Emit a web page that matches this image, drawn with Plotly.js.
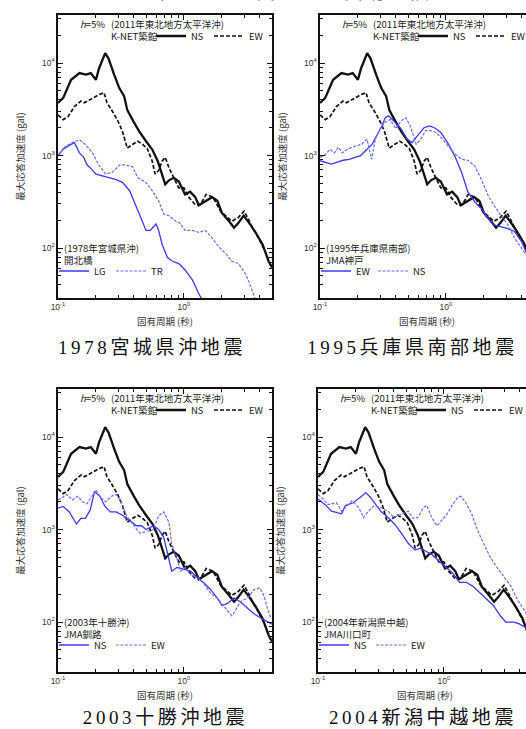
<!DOCTYPE html>
<html><head><meta charset="utf-8">
<script src="https://cdn.plot.ly/plotly-3.0.1.min.js"></script>
<style>html,body{margin:0;padding:0;overflow:hidden;background:#fff;width:526px;height:729px}#plot{width:560px;height:729px}</style>
</head><body><div id="plot"></div>
<script>
// ---- K-NET 築館 (2011年東北地方太平洋沖), same in all panels ----
const knetNS_T = [0.1,0.11,0.127,0.148,0.167,0.182,0.2,0.212,0.237,0.252,0.279,0.306,0.335,0.355,0.40,0.44,0.50,0.56,0.62,0.67,0.71,0.76,0.83,0.91,1.02,1.12,1.23,1.31,1.48,1.67,1.84,2.0,2.28,2.5,2.7,2.98,3.3,3.7,4.2,4.7,5.0];
const knetNS_A = [3700,4200,6600,7800,7500,7800,6600,8800,12800,11200,7500,5400,4400,3100,2300,1840,1430,1160,870,630,490,540,575,525,380,407,355,290,324,355,324,240,195,166,186,224,186,148,110,72,62];
const knetEW_T = [0.1,0.11,0.12,0.135,0.152,0.162,0.188,0.212,0.232,0.245,0.27,0.30,0.325,0.355,0.39,0.43,0.47,0.51,0.56,0.59,0.63,0.67,0.71,0.76,0.83,0.91,1.0,1.09,1.23,1.35,1.5,1.7,1.95,2.15,2.4,2.7,3.0,3.2,3.5,3.9,4.4,4.8,5.0];
const knetEW_A = [2750,2450,2630,3390,3890,3720,4170,4570,4790,3720,3020,2340,1820,1200,1320,1430,1320,1200,870,630,690,870,955,740,575,447,447,355,295,295,380,355,251,224,195,214,251,214,166,129,93,68,60];

// ---- 1978年宮城県沖 開北橋 ----
const kaihokuLG_T = [0.1,0.11,0.127,0.135,0.148,0.16,0.17,0.18,0.2,0.225,0.255,0.29,0.325,0.37,0.40,0.44,0.5,0.54,0.6,0.63,0.67,0.74,0.81,0.91,1.02,1.17,1.31,1.4];
const kaihokuLG_A = [990,1175,1320,1380,1070,955,795,740,630,600,575,550,513,417,324,240,155,155,182,155,110,79,72,68,58,45,32,27.5];
const kaihokuTR_T = [0.1,0.115,0.13,0.148,0.165,0.188,0.21,0.24,0.27,0.31,0.335,0.39,0.43,0.5,0.56,0.63,0.69,0.76,0.86,0.93,1.02,1.17,1.31,1.48,1.67,1.9,2.15,2.4,2.7,3.1,3.4,3.7];
const kaihokuTR_A = [1020,1260,1380,1480,1320,1070,795,630,660,795,795,760,575,513,417,324,234,224,195,186,155,155,148,155,129,102,87,72,68,52,38,27.5];

// ---- 1995年兵庫県南部 JMA神戸 ----
const kobeEW_T = [0.1,0.11,0.123,0.137,0.153,0.17,0.19,0.21,0.236,0.26,0.28,0.31,0.33,0.35,0.385,0.44,0.49,0.54,0.59,0.67,0.74,0.81,0.91,1.03,1.17,1.33,1.49,1.69,1.9,2.16,2.4,2.7,3.1,3.5,4.0,4.4,5.0];
const kobeEW_A = [880,850,810,850,890,910,955,1000,1170,1330,1620,2090,2570,2690,2370,1950,1510,1380,1620,2000,2090,2000,1780,1380,1000,660,407,316,269,209,178,170,162,151,117,85,63];
const kobeNS_T = [0.1,0.11,0.12,0.13,0.14,0.15,0.165,0.18,0.215,0.236,0.257,0.275,0.30,0.33,0.36,0.4,0.44,0.48,0.52,0.58,0.62,0.69,0.76,0.83,0.91,1.03,1.17,1.33,1.49,1.69,1.9,2.16,2.4,2.7,3.1,3.5,4.0,4.5,5.0];
const kobeNS_A = [955,1020,1170,1070,1230,1070,1170,1230,1330,1510,910,1510,1950,2290,2450,1950,2370,2570,2090,1330,1450,1860,1860,1780,1580,1290,1050,910,890,775,560,370,290,230,178,129,100,78,63];

// ---- 2003年十勝沖 JMA釧路 ----
const kushiroNS_T = [0.1,0.11,0.123,0.14,0.152,0.165,0.18,0.195,0.215,0.236,0.26,0.29,0.33,0.37,0.42,0.46,0.5,0.57,0.63,0.69,0.76,0.8,0.88,1.0,1.13,1.29,1.45,1.63,1.84,2.0,2.2,2.5,2.8,3.2,3.6,4.1,4.6,5.0];
const kushiroNS_A = [1700,1780,1550,1150,1320,1320,1620,2570,2290,1780,1550,1550,1410,1260,1100,1100,1000,1100,1000,830,500,355,390,370,355,300,263,224,182,151,158,182,166,141,123,110,100,95];
const kushiroEW_T = [0.1,0.107,0.117,0.13,0.143,0.157,0.17,0.19,0.2,0.22,0.24,0.265,0.29,0.32,0.35,0.4,0.45,0.5,0.57,0.63,0.69,0.76,0.8,0.86,0.94,1.03,1.13,1.29,1.45,1.63,1.84,2.1,2.4,2.5,2.8,3.2,3.6,4.0,4.3,4.6,4.9];
const kushiroEW_A = [2090,2190,2400,2090,2290,2000,1900,2400,2690,2190,2000,2290,2400,1950,1410,1100,910,955,1000,1410,1550,1200,690,540,355,390,324,300,257,204,182,145,117,126,166,182,224,234,195,141,110];

// ---- 2004年新潟県中越 JMA川口町 ----
const kawaguchiNS_T = [0.1,0.114,0.128,0.154,0.165,0.19,0.217,0.24,0.26,0.29,0.315,0.36,0.405,0.46,0.52,0.59,0.65,0.73,0.8,0.91,1.03,1.17,1.33,1.5,1.69,1.92,2.18,2.47,2.8,3.1,3.6,4.0,4.6,5.0];
const kawaguchiNS_A = [2140,1860,1580,1480,1820,1950,2240,2510,2240,1860,1580,1350,1150,910,710,600,630,575,540,457,398,339,269,269,245,209,178,151,117,100,100,95,85,71];
const kawaguchiEW_T = [0.1,0.11,0.12,0.14,0.154,0.17,0.186,0.21,0.23,0.25,0.28,0.31,0.36,0.40,0.46,0.52,0.57,0.62,0.69,0.73,0.8,0.88,0.96,1.06,1.17,1.29,1.36,1.49,1.66,1.85,2.06,2.32,2.6,2.96,3.4,3.8,4.3,4.7,5.0];
const kawaguchiEW_A = [2400,2140,1860,1950,1580,1820,2040,1740,1350,1580,1820,1740,1580,1350,1480,1580,1320,1350,1740,1820,1350,1100,1260,1480,1860,2240,2290,1950,1480,980,710,510,400,316,245,178,138,117,100];

// ---- labels ----
const eventNames = ['(1978年宮城県沖)','(1995年兵庫県南部)','(2003年十勝沖)','(2004年新潟県中越)'];
const stationNames = ['開北橋','JMA神戸','JMA釧路','JMA川口町'];
const compNames = [['LG','TR'],['EW','NS'],['NS','EW'],['NS','EW']];
const captions = ['1978宮城県沖地震','1995兵庫県南部地震','2003十勝沖地震','2004新潟中越地震'];
const blueSeries = [
  [[kaihokuLG_T,kaihokuLG_A],[kaihokuTR_T,kaihokuTR_A]],
  [[kobeEW_T,kobeEW_A],[kobeNS_T,kobeNS_A]],
  [[kushiroNS_T,kushiroNS_A],[kushiroEW_T,kushiroEW_A]],
  [[kawaguchiNS_T,kawaguchiNS_A],[kawaguchiEW_T,kawaguchiEW_A]]
];
const xTickVals = [0.1,1];
const xTickText = ['10<sup>-1</sup>','10<sup>0</sup>'];
const xMinor = [0.2,0.3,0.4,0.5,0.6,0.7,0.8,0.9,2,3,4];
const yTickVals = [100,1000,10000];
const yTickText = ['10<sup>2</sup>','10<sup>3</sup>','10<sup>4</sup>'];
const yMinor = [40,50,60,70,80,90,200,300,400,500,600,700,800,900,2000,3000,4000,5000,6000,7000,8000,9000,20000,30000];
const xTitle = '固有周期 (秒)';
const yTitle = '最大応答加速度 (gal)';
const pageTitle = '過去の主な地震との地震動比較';

// ---- layout geometry ----
const FW = 560, FH = 729, PW = 214, PH = 283;
const panels = [{x0:58,y0:15},{x0:320,y0:15},{x0:58,y0:389},{x0:318,y0:389}];
const captionPos = [[152,347],[412,347],[165,717],[423,717]];
const JP = "'Noto Sans CJK JP', sans-serif";
const smallFont = {size:9.5, color:'#222', family:JP};

const traces = [];
const layout = {
  width: FW, height: FH, margin:{l:0,r:0,t:0,b:0},
  paper_bgcolor:'#fff', plot_bgcolor:'#fff', showlegend:true,
  font:{family:JP, color:'#222', size:9},
  annotations:[]
};

panels.forEach((p,i)=>{
  const n = i+1, sx = n===1 ? '' : String(n);
  const xa = 'x'+sx, ya = 'y'+sx;
  const lgA = i===0 ? 'legend' : 'legend'+(2*i+1);
  const lgB = 'legend'+(2*i+2);
  const axCommon = {
    type:'log', showline:true, linecolor:'#111', linewidth:1.6, mirror:'allticks',
    ticks:'inside', ticklen:5, tickwidth:1, tickcolor:'#111', showgrid:false, zeroline:false,
    tickfont:{size:8.5, color:'#333', family:"'Liberation Sans', Arial, sans-serif"},
    tickmode:'array', fixedrange:true
  };
  layout['xaxis'+sx] = Object.assign({}, axCommon, {
    domain:[p.x0/FW,(p.x0+PW)/FW], anchor:ya, range:[-1,Math.log10(5)],
    tickvals:xTickVals, ticktext:xTickText,
    minor:{tickmode:'array', tickvals:xMinor, ticks:'inside', ticklen:3, tickcolor:'#111', showgrid:false},
    title:{text:xTitle, font:{size:9.5, color:'#333', family:JP}, standoff:7}
  });
  layout['yaxis'+sx] = Object.assign({}, axCommon, {
    domain:[1-(p.y0+PH)/FH, 1-p.y0/FH], anchor:xa, range:[1.46,4.52],
    tickvals:yTickVals, ticktext:yTickText,
    minor:{tickmode:'array', tickvals:yMinor, ticks:'inside', ticklen:3, tickcolor:'#111', showgrid:false},
    title:{text:yTitle, font:{size:9.5, color:'#333', family:JP}, standoff:15}
  });

  // K-NET traces
  traces.push({x:knetNS_T, y:knetNS_A, xaxis:xa, yaxis:ya, type:'scatter', mode:'lines',
    name:'NS', legend:lgA, line:{color:'#111', width:2.3}});
  traces.push({x:knetEW_T, y:knetEW_A, xaxis:xa, yaxis:ya, type:'scatter', mode:'lines',
    name:'EW', legend:lgA, line:{color:'#111', width:1.7, dash:'4px,2px'}});
  // comparison traces
  const [s1, s2] = blueSeries[i];
  traces.push({x:s1[0], y:s1[1], xaxis:xa, yaxis:ya, type:'scatter', mode:'lines',
    name:compNames[i][0], legend:lgB, line:{color:'#3a3aff', width:1.3}});
  traces.push({x:s2[0], y:s2[1], xaxis:xa, yaxis:ya, type:'scatter', mode:'lines',
    name:compNames[i][1], legend:lgB, line:{color:'#6a6aff', width:1.2, dash:'3px,1.5px'}});

  const lgCommon = {orientation:'h', xanchor:'left', yanchor:'middle', bgcolor:'rgba(0,0,0,0)', borderwidth:0,
    font:smallFont, itemwidth:30, itemclick:false, itemdoubleclick:false,
    tracegroupgap:0, traceorder:'normal', entrywidthmode:'pixels'};
  layout[lgA] = Object.assign({}, lgCommon, {x:(p.x0+93)/FW, y:1-(p.y0+21)/FH, entrywidth:13});
  layout[lgB] = Object.assign({}, lgCommon, {x:(p.x0-4)/FW, y:1-(p.y0+256)/FH, entrywidth:12});

  const ann = (x, y, text) => layout.annotations.push({xref:xa+' domain', yref:ya+' domain',
    x:x/PW, y:1-y/PH, xanchor:'left', yanchor:'middle', showarrow:false, text:text, font:smallFont});
  ann(20, 9, '<i>h</i>=5%');
  ann(51, 9, '(2011年東北地方太平洋沖)');
  ann(51, 21, 'K-NET築館');
  ann(4, 233, eventNames[i]);
  ann(4, 245, stationNames[i]);

  layout.annotations.push({xref:'paper', yref:'paper', x:captionPos[i][0]/FW, y:1-captionPos[i][1]/FH,
    xanchor:'center', yanchor:'middle', showarrow:false, text:captions[i],
    font:{size:19, color:'#111', family:"'Liberation Serif', 'DejaVu Serif', 'Noto Sans CJK JP', serif"}});
});

layout.annotations.push({xref:'paper', yref:'paper', x:275/FW, y:1+12/FH, xanchor:'center', yanchor:'middle',
  showarrow:false, text:pageTitle, font:{size:22, color:'#111', family:JP}});

Plotly.newPlot('plot', traces, layout, {staticPlot:true, displayModeBar:false}).then(()=>{
  document.querySelectorAll('.annotation-text').forEach(el=>{
    if (captions.indexOf(el.textContent) >= 0) el.style.letterSpacing = '3.6px';
  });
});
</script></body></html>
